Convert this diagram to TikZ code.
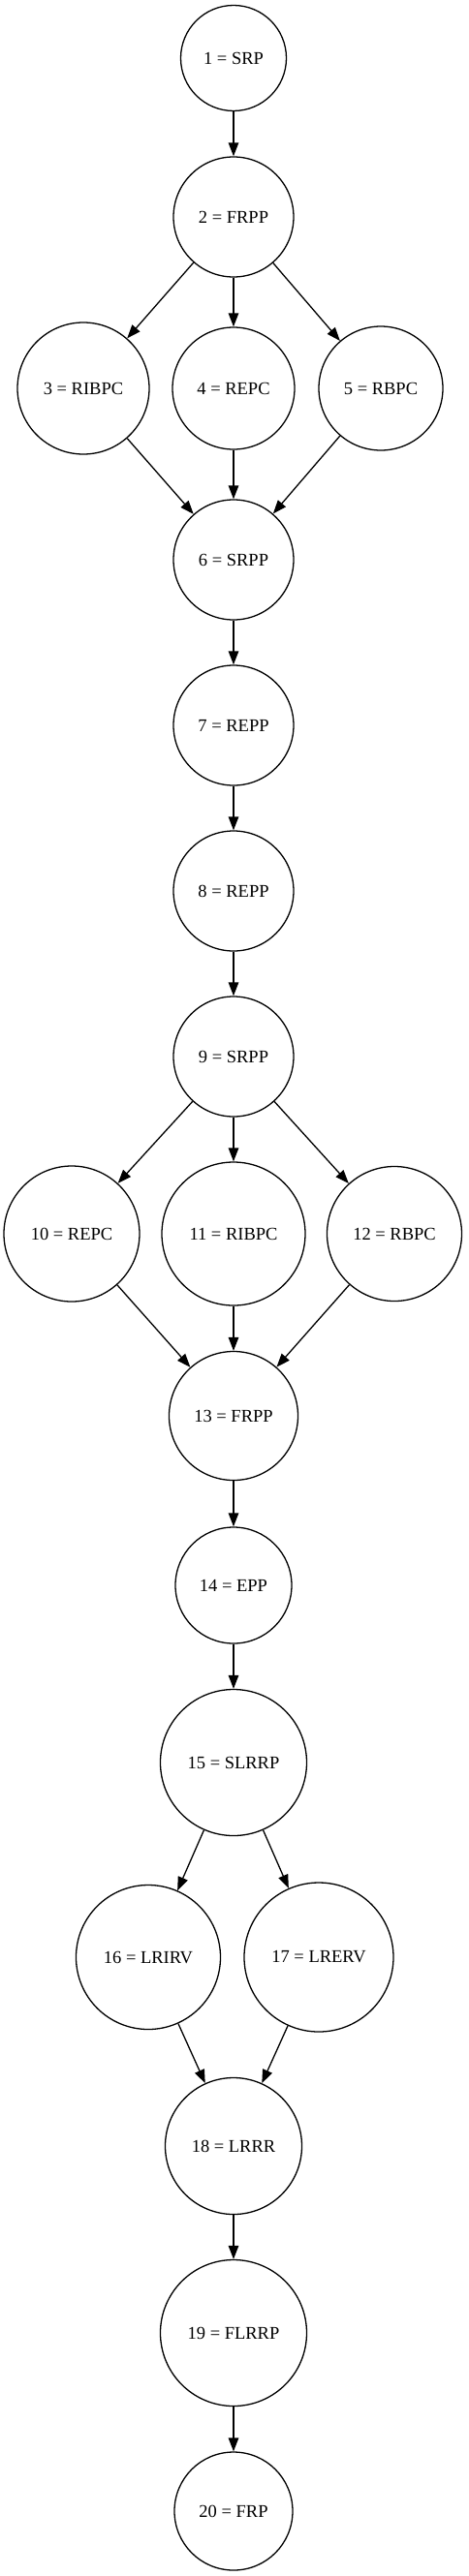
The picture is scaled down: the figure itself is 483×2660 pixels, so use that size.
\documentclass[tikz,border=0pt]{standalone}
\usepackage{fontspec}
\setmainfont{Liberation Serif}
\usepackage{tikz}
\usetikzlibrary{arrows.meta}

\begin{document}
\begin{tikzpicture}[x=1pt,y=-1pt]
	          \useasboundingbox (0,0) rectangle (483,2660);
	          \begin{scope}[every node/.style={circle,draw,line width=1.3pt,inner sep=0pt,font=\fontsize{18.5}{20}\selectfont}]
	            \node[minimum size=109pt] (a) at (241,60) {1 = SRP};
	            \node[minimum size=124pt] (b) at (241,224) {2 = FRPP};
	            \node[minimum size=136pt] (c) at (86,401) {3 = RIBPC};
	            \node[minimum size=126pt] (d) at (241,401) {4 = REPC};
	            \node[minimum size=128pt] (e) at (393,401) {5 = RBPC};
	            \node[minimum size=124pt] (f) at (241,578) {6 = SRPP};
	            \node[minimum size=124pt] (g) at (241,749) {7 = REPP};
	            \node[minimum size=124pt] (h) at (241,920) {8 = REPP};
	            \node[minimum size=124pt] (i) at (241,1091) {9 = SRPP};
	            \node[minimum size=140pt] (j) at (74,1274) {10 = REPC};
	            \node[minimum size=148pt] (k) at (241,1274) {11 = RIBPC};
	            \node[minimum size=139pt] (l) at (407,1274) {12 = RBPC};
	            \node[minimum size=133pt] (m) at (241,1462) {13 = FRPP};
	            \node[minimum size=120pt] (n) at (241,1637) {14 = EPP};
	            \node[minimum size=151pt] (o) at (241,1820) {15 = SLRRP};
	            \node[minimum size=149pt] (p) at (153,2021) {16 = LRIRV};
	            \node[minimum size=154pt] (q) at (329,2021) {17 = LRERV};
	            \node[minimum size=141pt] (r) at (241,2216) {18 = LRRR};
	            \node[minimum size=151pt] (s) at (241,2409) {19 = FLRRP};
	            \node[minimum size=122pt] (t) at (241,2593) {20 = FRP};
	          \end{scope}
	          \begin{scope}[every edge/.style={draw=black,line width=1.3pt,-{Triangle[length=14pt,width=10.5pt]}}]
	            \path (a) edge (b);
	            \path (b) edge (c);
	            \path (b) edge (d);
	            \path (b) edge (e);
	            \path (c) edge (f);
	            \path (d) edge (f);
	            \path (e) edge (f);
	            \path (f) edge (g);
	            \path (g) edge (h);
	            \path (h) edge (i);
	            \path (i) edge (j);
	            \path (i) edge (k);
	            \path (i) edge (l);
	            \path (j) edge (m);
	            \path (k) edge (m);
	            \path (l) edge (m);
	            \path (m) edge (n);
	            \path (n) edge (o);
	            \path (o) edge (p);
	            \path (o) edge (q);
	            \path (p) edge (r);
	            \path (q) edge (r);
	            \path (r) edge (s);
	            \path (s) edge (t);
	          \end{scope}
	        \end{tikzpicture}
\end{document}
